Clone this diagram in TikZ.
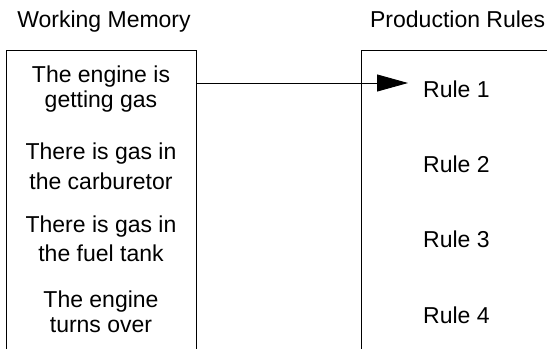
\documentclass[tikz,border=0pt]{standalone}
\usepackage{fontspec}
\setsansfont{Liberation Sans}
\usetikzlibrary{arrows.meta,positioning,calc}

\begin{document}
\begin{tikzpicture}[
  x=1pt,y=-1pt,font=\sffamily,
  head/.style={font=\sffamily\fontsize{23}{25}\selectfont,inner sep=0pt},
  fact/.style={font=\sffamily\fontsize{23}{#1}\selectfont,align=center,inner sep=0pt},
  fact/.default=24.5,
  rulename/.style={font=\sffamily\fontsize{23}{25}\selectfont,inner sep=0pt,anchor=west},
  frame/.style={draw=black,line width=.9pt},
  arrow/.style={-{Triangle[length=31pt,width=17pt]},line width=.9pt}
]
\clip (0,0) rectangle (547,349);
\fill[white] (0,0) rectangle (547,349);

% headings
\node[head,anchor=base] (wmhead) at (104,27) {Working Memory};
\node[head,anchor=base east] (prhead) at (545.5,27) {Production Rules};

% open boxes
\coordinate (wml) at (6,50);
\coordinate (wmr) at (196,50);
\coordinate (prl) at (361,50);
\draw[frame] (wml |- 0,349) -- (wml) -- (wmr) -- (wmr |- 0,349);
\draw[frame] (547,50) -- (prl) -- (prl |- 0,349);

% working memory facts
\node[fact] (m1) at (101,89) {The engine is\\getting gas};
\node[fact=29.5] (m2) at (101,166.5) {There is gas in\\the carburetor};
\node[fact=29.5] (m3) at (101,239) {There is gas in\\the fuel tank};
\node[fact] (m4) at (101,312) {The engine\\turns over};

% production rules
\coordinate (rx) at (423,0);
\node[rulename] (r1) at (rx |- m1) {Rule 1};
\node[rulename] (r2) at (rx |- 0,164.5) {Rule 2};
\node[rulename] (r3) at (rx |- m3) {Rule 3};
\node[rulename] (r4) at (rx |- 0,315) {Rule 4};

% match
\coordinate (a0) at (196,83);
\draw[arrow,shorten >=15pt] (a0) -- (a0 -| r1.west);
\end{tikzpicture}
\end{document}
